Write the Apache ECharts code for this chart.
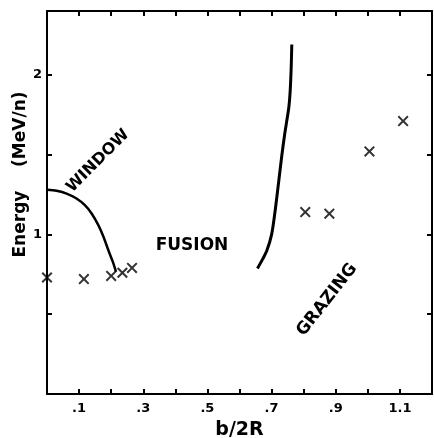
<!DOCTYPE html>
<html><head><meta charset="utf-8">
<script src="https://cdn.jsdelivr.net/npm/echarts@6/dist/echarts.min.js"></script>
<style>html,body{margin:0;padding:0;background:#fff;}#c{width:434px;height:438px;}</style>
</head><body><div id="c"></div>
<script>
// ---- data ----
const crossX = [0, 0.115, 0.2, 0.235, 0.265, 0.805, 0.88, 1.005, 1.11];
const crossY = [0.73, 0.72, 0.74, 0.76, 0.79, 1.14, 1.13, 1.52, 1.71];
const windowX = [0, 0.03, 0.061, 0.092, 0.118, 0.139, 0.16, 0.176, 0.191, 0.205, 0.215];
const windowY = [1.28, 1.273, 1.256, 1.225, 1.183, 1.131, 1.058, 0.985, 0.902, 0.829, 0.766];
const boundaryX = [0.656, 0.672, 0.685, 0.700, 0.711, 0.721, 0.732, 0.741, 0.748, 0.754, 0.758, 0.761, 0.763];
const boundaryY = [0.786, 0.845, 0.897, 0.999, 1.147, 1.311, 1.496, 1.63, 1.72, 1.80, 1.90, 2.04, 2.19];
const regionNames = ['WINDOW', 'FUSION', 'GRAZING'];
const regionX = [0.159, 0.452, 0.873];
const regionY = [1.46, 0.93, 0.59];
const regionAngle = [45, 0, 52];
const xTickValues = [0.1, 0.3, 0.5, 0.7, 0.9, 1.1];
const xTickLabels = ['.1', '.3', '.5', '.7', '.9', '1.1'];
const yTickValues = [1, 2];
const yTickLabels = ['1', '2'];

const FONT = 'DejaVu Sans';
function lookup(vals, labels, v) {
  for (let i = 0; i < vals.length; i++) if (Math.abs(vals[i] - v) < 1e-6) return labels[i];
  return '';
}
const zip = (a, b) => a.map((v, i) => [v, b[i]]);
const crossPath = 'path://M0,1.3L1.3,0L5,3.7L8.7,0L10,1.3L6.3,5L10,8.7L8.7,10L5,6.3L1.3,10L0,8.7L3.7,5Z';

const axisLine = { show: true, onZero: false, lineStyle: { color: '#000', width: 2 } };
const tick = { show: true, inside: true, length: 5, lineStyle: { color: '#000', width: 2 } };
const chart = echarts.init(document.getElementById('c'), null, { renderer: 'canvas' });
chart.setOption({
  animation: false,
  backgroundColor: '#fff',
  grid: { left: 47, right: 2, top: 11, bottom: 44, containLabel: false, outerBoundsMode: 'none' },
  xAxis: [{
    type: 'value', min: 0, max: 1.2, interval: 0.1, position: 'bottom',
    axisLine: axisLine, axisTick: tick, splitLine: { show: false },
    axisLabel: { show: true, margin: 8, color: '#000', fontFamily: FONT, fontWeight: 'bold', fontSize: 13,
      formatter: v => lookup(xTickValues, xTickLabels, v), showMinLabel: true, showMaxLabel: true },
    name: 'b/2R', nameLocation: 'middle', nameGap: 27, nameMoveOverlap: false,
    nameTextStyle: { color: '#000', fontFamily: FONT, fontWeight: 'bold', fontSize: 19 }
  }, {
    type: 'value', min: 0, max: 1.2, interval: 0.1, position: 'top',
    axisLine: axisLine, axisTick: tick, splitLine: { show: false }, axisLabel: { show: false }
  }],
  yAxis: [{
    type: 'value', min: 0, max: 2.4, interval: 0.5, position: 'left',
    axisLine: axisLine, axisTick: tick, splitLine: { show: false },
    axisLabel: { show: true, margin: 5, color: '#000', fontFamily: FONT, fontWeight: 'bold', fontSize: 13,
      formatter: v => lookup(yTickValues, yTickLabels, v) },
    name: 'Energy    (MeV/n)', nameLocation: 'middle', nameRotate: 90, nameGap: 18, nameMoveOverlap: false,
    nameTextStyle: { color: '#000', fontFamily: FONT, fontWeight: 'bold', fontSize: 17, padding: [0, 0, 0, 56] }
  }, {
    type: 'value', min: 0, max: 2.4, interval: 0.5, position: 'right',
    axisLine: axisLine, axisTick: tick, splitLine: { show: false }, axisLabel: { show: false }
  }],
  series: [{
    type: 'line', xAxisIndex: 0, yAxisIndex: 0, data: zip(windowX, windowY), smooth: 0.3,
    showSymbol: false, lineStyle: { color: '#000', width: 2.5 }
  }, {
    type: 'line', xAxisIndex: 0, yAxisIndex: 0, data: zip(boundaryX, boundaryY), smooth: 0.3,
    showSymbol: false, lineStyle: { color: '#000', width: 3 }
  }, {
    type: 'scatter', xAxisIndex: 0, yAxisIndex: 0, data: [zip(windowX, windowY)[windowX.length - 1]],
    symbol: 'emptyCircle', symbolSize: 6, itemStyle: { color: '#fff', borderColor: '#000', borderWidth: 1.5 }
  }, {
    type: 'scatter', xAxisIndex: 0, yAxisIndex: 0, data: zip(crossX, crossY),
    symbol: crossPath, symbolSize: 11, itemStyle: { color: '#000' }
  }, {
    type: 'scatter', xAxisIndex: 0, yAxisIndex: 0,
    data: regionNames.map((n, i) => ({
      value: [regionX[i], regionY[i]],
      label: { rotate: regionAngle[i], formatter: n, fontSize: i === 0 ? 16 : 17, color: '#000' }
    })),
    symbol: 'circle', symbolSize: 1, itemStyle: { color: '#000', opacity: 0 }, silent: true,
    label: { show: true, position: 'inside', color: '#000', opacity: 1, fontFamily: FONT, fontWeight: 'bold',
      align: 'center', verticalAlign: 'middle', textBorderWidth: 0 }
  }]
});
</script></body></html>
